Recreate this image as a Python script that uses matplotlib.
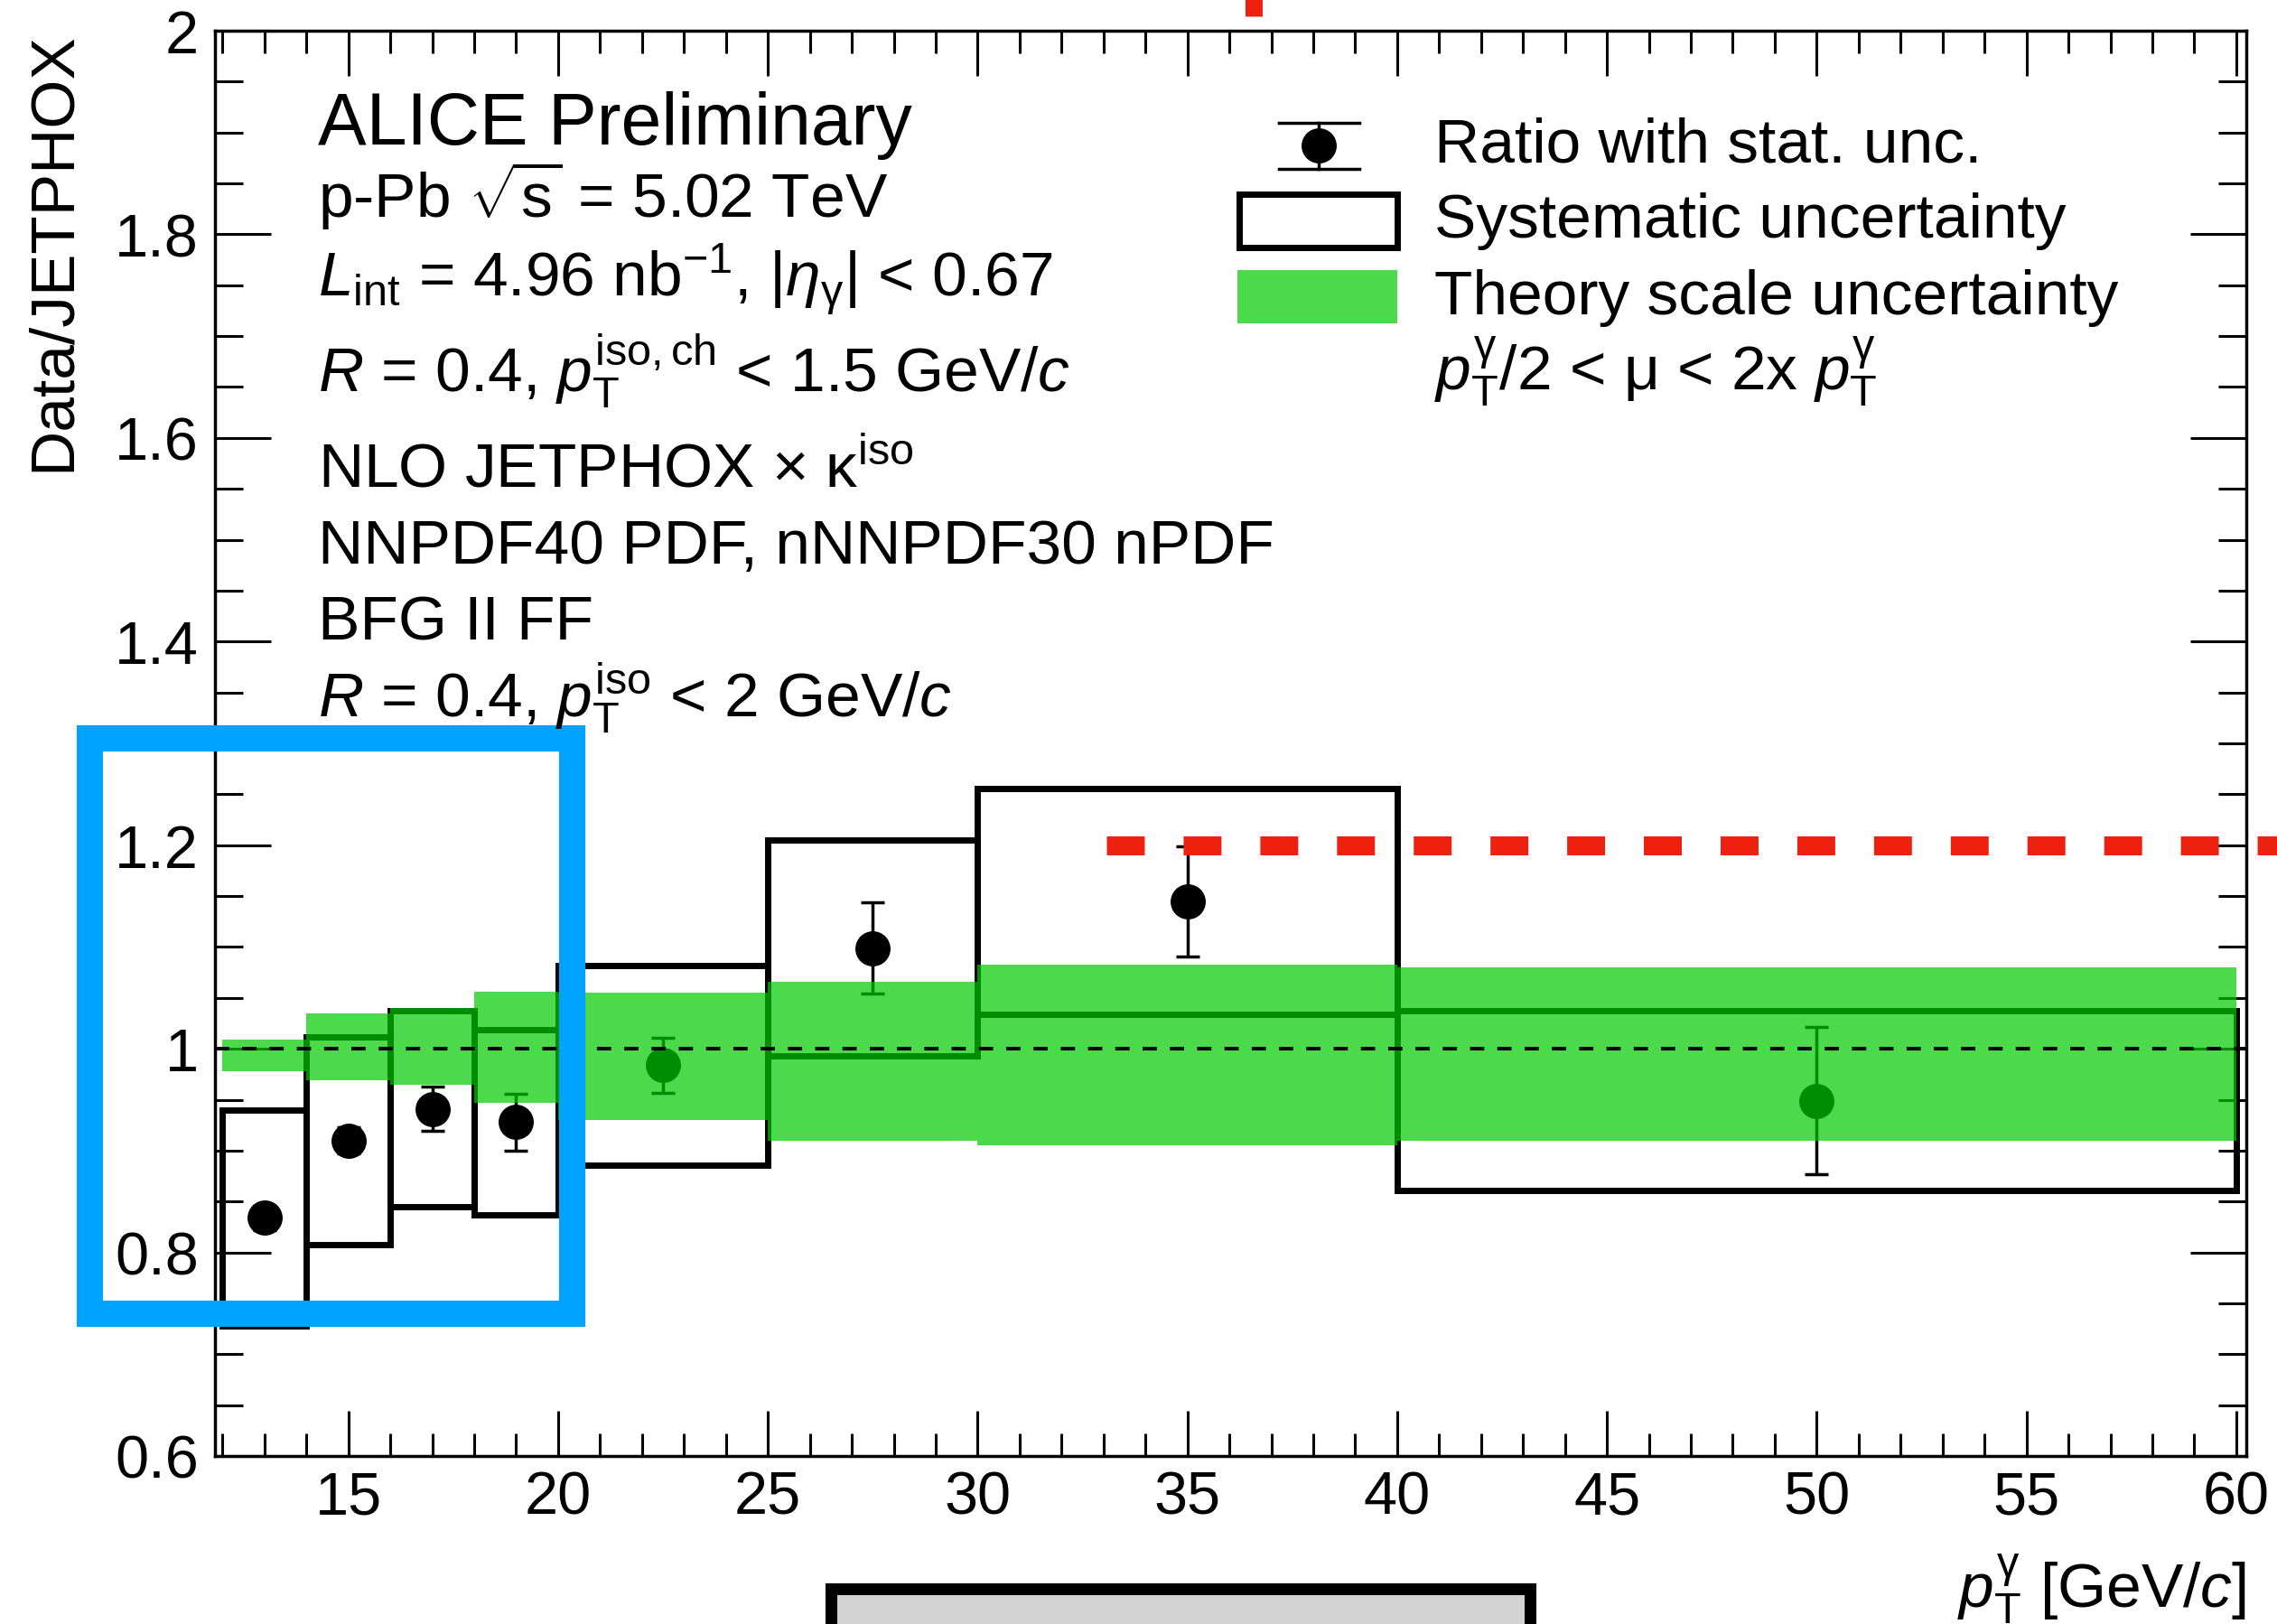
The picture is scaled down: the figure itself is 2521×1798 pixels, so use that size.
import matplotlib
matplotlib.use("Agg")
import matplotlib.pyplot as plt
from matplotlib.patches import Rectangle
from matplotlib.lines import Line2D
from matplotlib.ticker import MultipleLocator, FuncFormatter

plt.rcParams['font.family'] = ['Liberation Sans', 'DejaVu Sans']
plt.rcParams['mathtext.fontset'] = 'custom'
plt.rcParams['mathtext.rm'] = 'Liberation Sans'
plt.rcParams['mathtext.it'] = 'Liberation Sans:italic'
plt.rcParams['mathtext.bf'] = 'Liberation Sans:bold'

# pT bins (GeV/c)
pt_lo = [12, 14, 16, 18, 20, 25, 30, 40]
pt_hi = [14, 16, 18, 20, 25, 30, 40, 60]
pt_mid = [13, 15, 17, 19, 22.5, 27.5, 35, 50]

# data / JETPHOX ratio
ratio = [0.834, 0.910, 0.941, 0.928, 0.984, 1.099, 1.145, 0.949]
stat = [0.012, 0.013, 0.022, 0.028, 0.027, 0.045, 0.054, 0.072]
syst = [0.106, 0.102, 0.096, 0.091, 0.098, 0.106, 0.111, 0.088]

# JETPHOX scale variation band
theo_hi = [1.009, 1.035, 1.040, 1.056, 1.055, 1.066, 1.083, 1.080]
theo_lo = [0.978, 0.969, 0.965, 0.947, 0.930, 0.910, 0.905, 0.910]

W, H = 2521, 1799
fig = plt.figure(figsize=(W / 100, H / 100), dpi=100)
ax = fig.add_axes([238 / W, 1 - 1613 / H, (2487 - 238) / W, (1613 - 35) / H])


def fpos(x, y):
    # pixel position -> figure fraction
    return x / W, 1 - y / H


band_col = (0.0, 0.79, 0.0)

widths = [h - l for l, h in zip(pt_lo, pt_hi)]

# systematic boxes
ax.bar(pt_lo, [2 * s for s in syst], width=widths, align='edge',
       bottom=[r - s for r, s in zip(ratio, syst)], fill=False,
       edgecolor='black', linewidth=5, zorder=2)

# data points with stat. errors
ax.errorbar(pt_mid, ratio, yerr=stat, fmt='o', color='black', ms=27,
            elinewidth=2.5, capsize=9.2, capthick=2.5, zorder=3)

# theory band
ax.bar(pt_lo, [h - l for l, h in zip(theo_lo, theo_hi)], width=widths,
       align='edge', bottom=theo_lo, color=band_col, alpha=0.7,
       linewidth=0, zorder=4)

ax.axhline(1.0, color='black', lw=2.9, dashes=(3.9, 3.6), zorder=5)

ax.set_xlim(11.82, 60.24)
ax.set_ylim(0.6, 2.0)
ax.xaxis.set_major_locator(MultipleLocator(5))
ax.xaxis.set_minor_locator(MultipleLocator(1))
ax.yaxis.set_major_locator(MultipleLocator(0.2))
ax.yaxis.set_minor_locator(MultipleLocator(0.05))
ax.yaxis.set_major_formatter(FuncFormatter(lambda v, p: '%g' % round(v, 2)))
ax.tick_params(which='both', direction='in', top=True, right=True,
               width=2.2, labelsize=48)
ax.tick_params(axis='x', which='major', length=36, pad=11)
ax.tick_params(axis='x', which='minor', length=18)
ax.tick_params(axis='y', which='major', length=44.6, pad=13)
ax.tick_params(axis='y', which='minor', length=22)
for sp in ax.spines.values():
    sp.set_linewidth(2.5)

# axis titles
fig.text(*fpos(59, 35), 'Data/JETPHOX', rotation=90, ha='center', va='top',
         fontsize=50)
fig.text(*fpos(2487, 1780), r'$p_{\mathrm{T}}^{\mathrm{\gamma}}$ [GeV/$c$]',
         ha='right', va='baseline', fontsize=50)

# info block
fig.text(*fpos(352, 160), 'ALICE Preliminary', fontsize=58, va='baseline')
info = [
    (241, r'p-Pb $\sqrt{\mathrm{s}}$ = 5.02 TeV'),
    (328, r'$L_{\mathrm{int}}$ = 4.96 nb$^{-1}$, $|\eta_{\mathrm{\gamma}}|$ < 0.67'),
    (434, r'$R$ = 0.4, $p_{\mathrm{T}}^{\mathrm{iso,ch}}$ < 1.5 GeV/$c$'),
    (539, r'NLO JETPHOX $\times$ κ$^{\mathrm{iso}}$'),
    (624, 'NNPDF40 PDF, nNNPDF30 nPDF'),
    (709, 'BFG II FF'),
    (794, r'$R$ = 0.4, $p_{\mathrm{T}}^{\mathrm{iso}}$ < 2 GeV/$c$'),
]
for y, s in info:
    fig.text(*fpos(352, y), s, fontsize=50, va='baseline')

# legend
leg = [
    (180, 'Ratio with stat. unc.'),
    (263, 'Systematic uncertainty'),
    (348, 'Theory scale uncertainty'),
    (432, r'$p_{\mathrm{T}}^{\mathrm{\gamma}}$/2 < μ < 2x $p_{\mathrm{T}}^{\mathrm{\gamma}}$'),
]
for y, s in leg:
    fig.text(*fpos(1588, y), s, fontsize=50, va='baseline')

tf = fig.transFigure
x0, y0 = fpos(1460, 137)
x1, y1 = fpos(1460, 188)
fig.add_artist(Line2D([x0, x1], [y0, y1], color='black', lw=2.5, transform=tf))
for yy in (137, 188):
    a, b = fpos(1415.5, yy)
    c, d = fpos(1504.5, yy)
    fig.add_artist(Line2D([a, c], [b, d], color='black', lw=2.5, transform=tf))
mx, my = fpos(1460, 162)
fig.add_artist(Line2D([mx], [my], marker='o', ms=27, color='black', transform=tf))

bx, by = fpos(1372, 275)
fig.add_artist(Rectangle((bx, by), 175 / W, 59 / H, facecolor='white',
                         edgecolor='black', lw=5, transform=tf))
gx, gy = fpos(1370, 359)
fig.add_artist(Rectangle((gx, gy), 177 / W, 59 / H, facecolor=band_col,
                         alpha=0.7, lw=0, transform=tf))

# highlight box around the low-pT bins
ax.add_patch(Rectangle((8.83, 0.740), 20.33 - 8.83, 1.305 - 0.740,
                       fill=False, edgecolor='#00A3FF', lw=21,
                       clip_on=False, zorder=7))

# red reference line
ax.plot([33.06, 61.5], [1.2, 1.2], color='#EE2010', lw=15.1,
        dashes=(2.0, 2.05), clip_on=False, zorder=6)
rx, ry0 = fpos(1387.5, -10)
_, ry1 = fpos(1387.5, 19)
fig.add_artist(Line2D([rx, rx], [ry0, ry1], color='#EE2010', lw=13.7,
                      solid_capstyle='butt', transform=tf))

# grey box at the bottom
px0, py0 = fpos(920, 1830)
fig.add_artist(Rectangle((px0, py0), (1694 - 920) / W, (1830 - 1760) / H,
                         facecolor='#D3D3D3', edgecolor='black', lw=9.4,
                         transform=tf))

fig.savefig('out.png', dpi=100)
